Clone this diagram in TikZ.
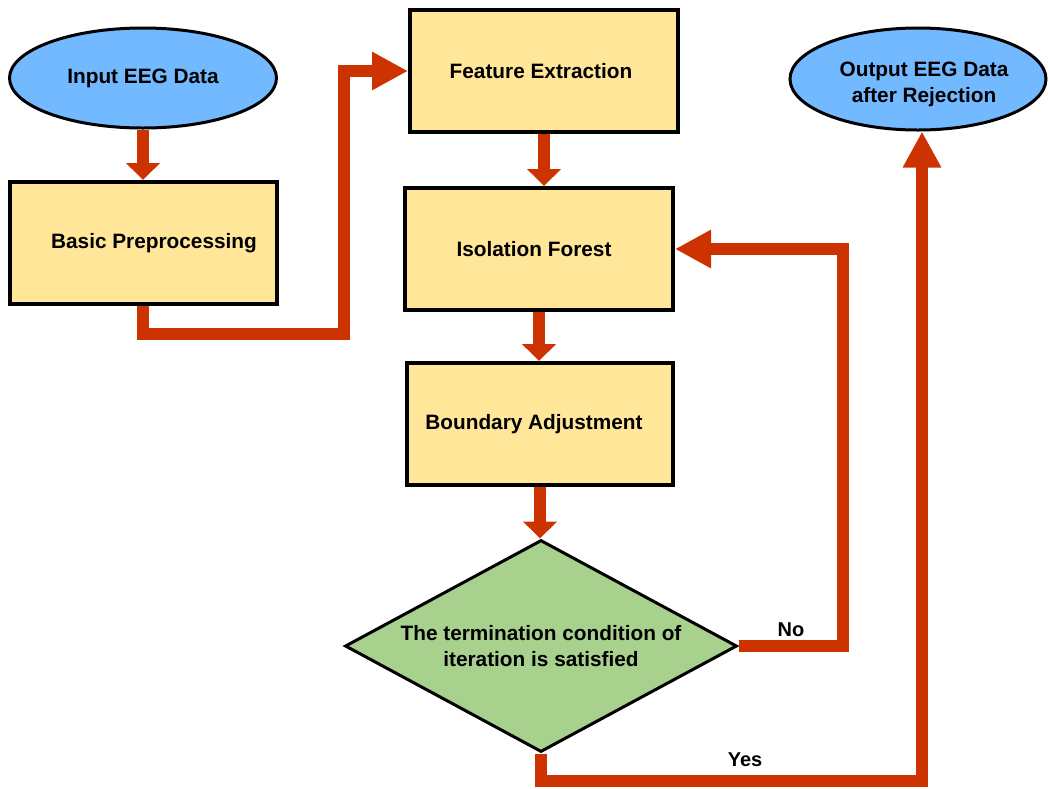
\documentclass[tikz,border=0pt]{standalone}
\usepackage{fontspec}
\setmainfont{Liberation Sans}
\usetikzlibrary{shapes.geometric,arrows.meta,calc}
\definecolor{eblue}{HTML}{73B9FF}
\definecolor{byellow}{HTML}{FFE699}
\definecolor{dgreen}{HTML}{A9D18E}
\definecolor{ared}{HTML}{CC3300}
\tikzset{
  txt/.style={font=\fontsize{20.8}{26}\selectfont\bfseries, align=center},
  oval/.style={txt, ellipse, draw=black, line width=3pt, fill=eblue, inner sep=0pt},
  procbox/.style={txt, rectangle, draw=black, line width=4pt, fill=byellow, minimum width=266pt, minimum height=122pt, inner sep=0pt},
  decide/.style={txt, diamond, draw=black, line width=3pt, fill=dgreen, minimum width=392pt, minimum height=212pt, inner sep=0pt, aspect=1.85},
  conn/.style={draw=ared, line width=12pt, line join=miter, -{Triangle[length=17pt,width=33pt]}},
  bigconn/.style={draw=ared, line width=12pt, line join=miter, -{Triangle[length=36pt,width=36pt]}},
  lbl/.style={font=\fontsize{20}{24}\selectfont\bfseries}
}
\begin{document}
\begin{tikzpicture}[x=1pt,y=-1pt]
\useasboundingbox (0,0) rectangle (1049,788);
\node[oval, minimum width=267pt, minimum height=100pt] (in) at (143,78) {Input EEG Data};
\node[procbox, minimum width=267pt] (basic) at (143,243) {\hspace*{22pt}Basic Preprocessing};
\node[procbox, minimum width=268pt] (feat) at (544,71) {Feature Extraction\hspace*{6pt}};
\node[procbox, minimum width=268pt] (iso) at (539,249) {Isolation Forest\hspace*{10pt}};
\node[procbox] (bnd) at (540,424) {Boundary Adjustment\hspace*{12pt}};
\node[decide] (dia) at (541,646) {The termination condition of\\iteration is satisfied};
\node[oval, minimum width=256pt, minimum height=102pt] (out) at (918,79) {};
\node[txt] (outtxt) at (924,84) {Output EEG Data\\after Rejection};

\coordinate (c1) at (344,334);
\coordinate (c2) at (843,646);
\coordinate (c3) at (922,781);

\draw[conn] (in.south) -- (basic.north);
\draw[conn] (feat.south) -- (feat.south |- iso.north);
\draw[conn] (iso.south) -- (iso.south |- bnd.north);
\draw[conn] (bnd.south) -- (bnd.south |- dia.north);
\draw[bigconn] (basic.south) |- (c1) |- (feat.west);
\draw[bigconn] (dia.east) -- (c2) |- (iso.east);
\draw[bigconn] (dia.south) |- (c3) -- (c3 |- out.south);

\node[lbl] (no) at (791,630) {No};
\node[lbl] (yes) at (745,760) {Yes};
\end{tikzpicture}
\end{document}
